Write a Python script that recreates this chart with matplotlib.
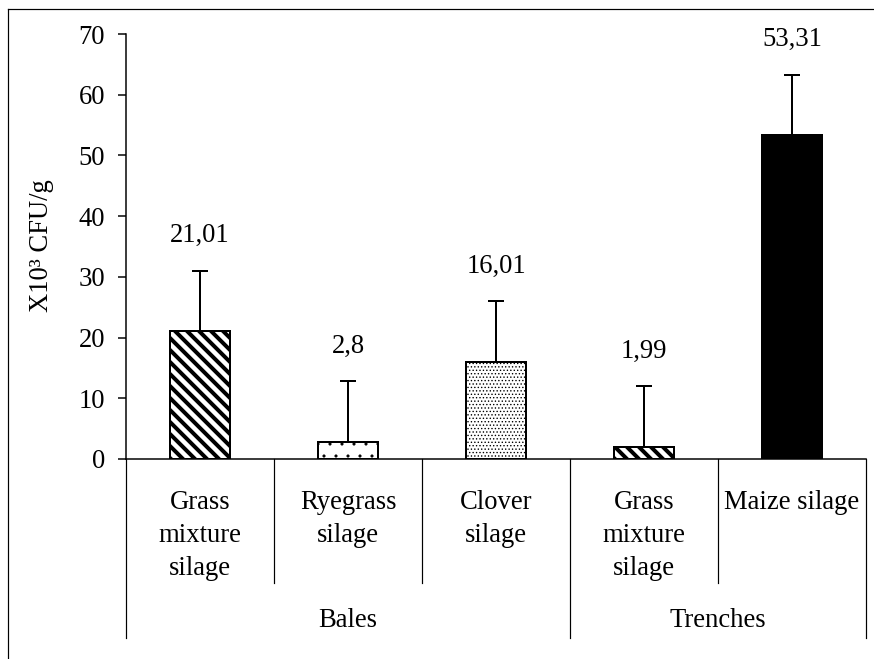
import numpy as np
import matplotlib
matplotlib.use("Agg")
import matplotlib.pyplot as plt
from matplotlib.transforms import blended_transform_factory
from matplotlib.lines import Line2D

plt.rcParams['font.family'] = ['Liberation Serif', 'DejaVu Serif']

BS = chr(92)  # backslash, for the hatch strings

## data
categories = ["Grass\nmixture\nsilage", "Ryegrass\nsilage", "Clover\nsilage",
              "Grass\nmixture\nsilage", "Maize silage"]
groups = ["Bales", "Trenches"]
group_sizes = [3, 2]
values = [21.01, 2.8, 16.01, 1.99, 53.31]
errors = [10, 10, 10, 10, 10]
hatches = [BS * 4, '..', '.......', BS * 4, '']
hatch_lw = [2.0, 0.3, 0.4, 2.0, 1.0]
fills = ['white', 'white', 'white', 'white', 'black']

FS = 13.3
DPI = 144
fig = plt.figure(figsize=(874 / DPI, 659 / DPI), dpi=DPI)
ax = fig.add_axes([126 / 874, 200 / 659, 740 / 874, 425 / 659])

x = np.arange(len(values))
bars = ax.bar(x, values, width=0.4, color=fills, edgecolor='black', linewidth=1.0, zorder=2)
for b, h, lw in zip(bars, hatches, hatch_lw):
    b.set_hatch(h)
    if hasattr(b, 'set_hatch_linewidth'):
        b.set_hatch_linewidth(lw)

ax.errorbar(x, values, yerr=[[0] * len(values), errors], fmt='none', ecolor='black',
            elinewidth=1.0, capsize=4, capthick=1.0, zorder=3)

for xi, v, e in zip(x, values, errors):
    ax.annotate(str(v).replace('.', ','), (xi, v + e), xytext=(0, 17.5),
                textcoords='offset points', ha='center', va='center', fontsize=FS)

ax.set_xlim(-0.5, len(values) - 0.5)
ax.set_ylim(0, 70)
ax.set_yticks(range(0, 71, 10))
ax.set_xticks([])
ax.tick_params(axis='y', direction='out', length=4, width=0.75, pad=6.5, labelsize=FS)
for s in ['top', 'right']:
    ax.spines[s].set_visible(False)
for s in ['left', 'bottom']:
    ax.spines[s].set_linewidth(0.75)

## category labels and dividers under the axis
trans = blended_transform_factory(ax.transData, ax.transAxes)
for xi, c in zip(x, categories):
    ax.text(xi, -0.072, c, transform=trans, ha='center', va='top', fontsize=FS,
            linespacing=1.42)

edges = np.cumsum([0] + group_sizes) - 0.5
for xv in np.arange(-0.5, len(values)):
    long_line = np.any(np.isclose(edges, xv))
    y_end = -0.421 if long_line else -0.292
    ax.add_line(Line2D([xv, xv], [0, y_end], transform=trans, color='black',
                       linewidth=0.6, clip_on=False))

for g, lo, hi in zip(groups, edges[:-1], edges[1:]):
    ax.text((lo + hi) / 2, -0.379, g, transform=trans, ha='center', va='center', fontsize=FS)

fig.text(41 / 874, 1 - 246 / 659, "X10³ CFU/g", rotation=90, ha='center', va='center', fontsize=FS)

## outer frame
fig.add_artist(Line2D([8 / 874, 8 / 874], [0, 1 - 9 / 659], transform=fig.transFigure,
                      color='black', linewidth=0.6))
fig.add_artist(Line2D([8 / 874, 1], [1 - 9 / 659, 1 - 9 / 659], transform=fig.transFigure,
                      color='black', linewidth=0.6))

fig.savefig("out.png", dpi=DPI)
